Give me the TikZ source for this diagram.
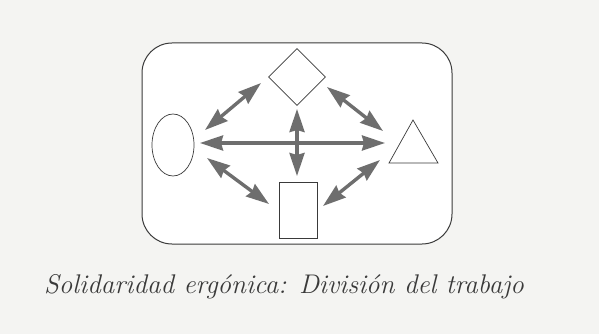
\documentclass[tikz,border=0pt]{standalone}
\usetikzlibrary{shapes.geometric,arrows.meta}
\definecolor{bg}{HTML}{F4F4F2}
\definecolor{arr}{HTML}{6E6E6E}
\definecolor{ink}{HTML}{3A3A3A}
\begin{document}
\begin{tikzpicture}[x=1pt,y=-1pt,
  figshape/.style={draw=ink,line width=0.7pt,fill=white,inner sep=0pt},
  link/.style={draw=arr,line width=3.4pt,{Stealth[length=23pt,width=15pt,inset=2pt]}-{Stealth[length=23pt,width=15pt,inset=2pt]}}]
\fill[bg] (0,0) rectangle (599,334);
\useasboundingbox (0,0) rectangle (599,334);
\draw[ink,line width=1pt,fill=white,rounded corners=30pt] (142,43) rectangle (452,244);
\node[figshape,diamond,minimum width=57pt,minimum height=57pt] (dia) at (297,77) {};
\node[figshape,ellipse,minimum width=42pt,minimum height=62pt] (ell) at (173,145) {};
\node[figshape,rectangle,minimum width=38pt,minimum height=56pt] (rect) at (298,210) {};
\draw[ink,line width=0.7pt,fill=white] (413,120) -- (438,163) -- (389,163) -- cycle;
\coordinate (a1) at (261,83); \coordinate (a2) at (205,130);
\coordinate (b1) at (327,87); \coordinate (b2) at (383,131);
\coordinate (c1) at (200,143); \coordinate (c2) at (385,143);
\coordinate (d1) at (297,109); \coordinate (d2) at (297,176);
\coordinate (e1) at (207,158); \coordinate (e2) at (269,204);
\coordinate (f1) at (380,160); \coordinate (f2) at (323,206);
\draw[link] (a1) -- (a2);
\draw[link] (b1) -- (b2);
\draw[link] (c1) -- (c2);
\draw[link] (d1) -- (d2);
\draw[link] (e1) -- (e2);
\draw[link] (f1) -- (f2);
\node[text=ink,anchor=base,font=\fontsize{27}{31}\selectfont\itshape] (cap) at (284,293) {Solidaridad ergónica: División del trabajo};
\end{tikzpicture}
\end{document}
